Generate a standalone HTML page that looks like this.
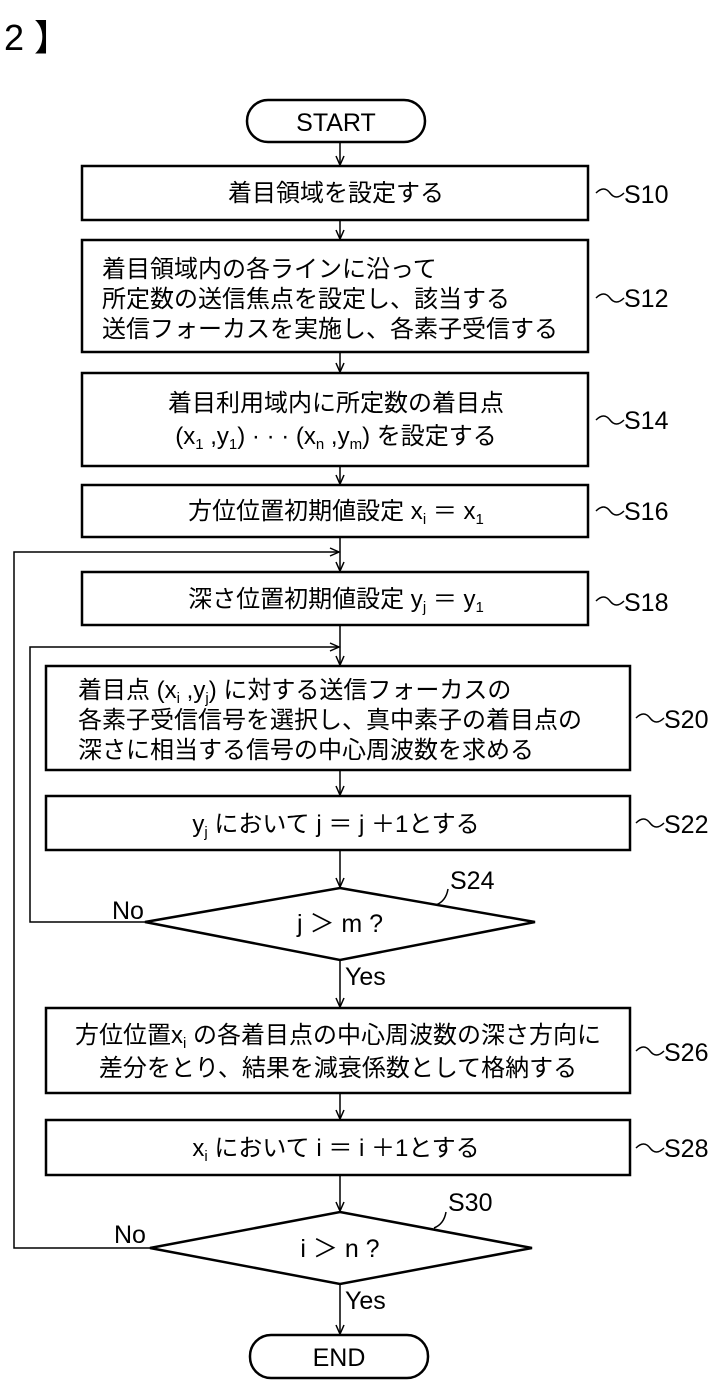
<!DOCTYPE html>
<html><head><meta charset="utf-8"><style>
body{margin:0;background:#fff;}
svg{display:block;}
text{font-family:"Liberation Sans","Noto Sans CJK JP",sans-serif;fill:#000;}
</style></head><body>
<svg width="715" height="1385" viewBox="0 0 715 1385" xmlns="http://www.w3.org/2000/svg">
<defs><marker id="a" markerWidth="12" markerHeight="12" refX="10" refY="5" orient="auto" markerUnits="userSpaceOnUse"><path d="M1,1 L10,5 L1,9" fill="none" stroke="#000" stroke-width="1.5"/></marker></defs>
<text x="4" y="50" font-size="36">2 】</text>
<g fill="none" stroke="#000" stroke-width="2.5">
<rect x="247" y="100" width="178" height="42" rx="21"/>
<rect x="82" y="166" width="506" height="54"/>
<rect x="82" y="240" width="506" height="112"/>
<rect x="82" y="373" width="506" height="93"/>
<rect x="82" y="485" width="506" height="52"/>
<rect x="82" y="572" width="506" height="53"/>
<rect x="46" y="666" width="584" height="104"/>
<rect x="46" y="796" width="584" height="54"/>
<polygon points="340,888 535,922 340,960 145,922"/>
<rect x="46" y="1008" width="584" height="85"/>
<rect x="46" y="1120" width="584" height="55"/>
<polygon points="340,1212 532,1248 340,1284 150,1248"/>
<rect x="250" y="1335" width="178" height="43" rx="21"/>
</g>
<g fill="none" stroke="#000" stroke-width="1.5" marker-end="url(#a)">
<line x1="340" y1="142" x2="340" y2="165"/>
<line x1="340" y1="220" x2="340" y2="239"/>
<line x1="340" y1="352" x2="340" y2="372"/>
<line x1="340" y1="466" x2="340" y2="484"/>
<line x1="340" y1="537" x2="340" y2="571"/>
<line x1="340" y1="625" x2="340" y2="665"/>
<line x1="340" y1="770" x2="340" y2="795"/>
<line x1="340" y1="850" x2="340" y2="887"/>
<line x1="340" y1="960" x2="340" y2="1007"/>
<line x1="340" y1="1093" x2="340" y2="1119"/>
<line x1="340" y1="1175" x2="340" y2="1211"/>
<line x1="340" y1="1284" x2="340" y2="1334"/>
<polyline points="145,922 30,922 30,647 339,647"/>
<polyline points="150,1248 14,1248 14,552 339,552"/>
</g>
<g fill="none" stroke="#000" stroke-width="1.5">
<path d="M596,193 q8,-8 14,0 t14,0"/>
<path d="M596,298 q8,-8 14,0 t14,0"/>
<path d="M596,420 q8,-8 14,0 t14,0"/>
<path d="M596,511 q8,-8 14,0 t14,0"/>
<path d="M596,601 q8,-8 14,0 t14,0"/>
<path d="M636,718 q8,-8 14,0 t14,0"/>
<path d="M636,823 q8,-8 14,0 t14,0"/>
<path d="M636,1051 q8,-8 14,0 t14,0"/>
<path d="M636,1148 q8,-8 14,0 t14,0"/>
<path d="M436,905 q10,-4 12,-16"/>
<path d="M434,1228 q10,-4 12,-16"/>
</g>
<g font-size="25">
<text x="336" y="131" text-anchor="middle">START</text>
<text x="339" y="1366" text-anchor="middle">END</text>
<text x="624" y="203">S10</text>
<text x="624" y="307">S12</text>
<text x="624" y="429">S14</text>
<text x="624" y="520">S16</text>
<text x="624" y="611">S18</text>
<text x="664" y="728">S20</text>
<text x="664" y="833">S22</text>
<text x="664" y="1061">S26</text>
<text x="664" y="1157">S28</text>
<text x="450" y="889">S24</text>
<text x="448" y="1211">S30</text>
<text x="112" y="919">No</text>
<text x="114" y="1243">No</text>
<text x="345" y="985">Yes</text>
<text x="345" y="1309">Yes</text>
<text x="340" y="932" text-anchor="middle">j ＞ m ?</text>
<text x="340" y="1257" text-anchor="middle">i ＞ n ?</text>
</g>
<g font-size="24">
<text x="336" y="201" text-anchor="middle">着目領域を設定する</text>
<text x="102" y="277">着目領域内の各ラインに沿って</text>
<text x="102" y="307">所定数の送信焦点を設定し、該当する</text>
<text x="102" y="337">送信フォーカスを実施し、各素子受信する</text>
<text x="336" y="411" text-anchor="middle">着目利用域内に所定数の着目点</text>
<text x="336" y="444" text-anchor="middle">(x<tspan font-size="15" dy="5">1</tspan><tspan dy="-5"> ,y</tspan><tspan font-size="15" dy="5">1</tspan><tspan dy="-5">) · · · (x</tspan><tspan font-size="15" dy="5">n</tspan><tspan dy="-5"> ,y</tspan><tspan font-size="15" dy="5">m</tspan><tspan dy="-5">) を設定する</tspan></text>
<text x="336" y="519" text-anchor="middle">方位位置初期値設定 x<tspan font-size="15" dy="5">i</tspan><tspan dy="-5"> ＝ x</tspan><tspan font-size="15" dy="5">1</tspan></text>
<text x="336" y="607" text-anchor="middle">深さ位置初期値設定 y<tspan font-size="15" dy="5">j</tspan><tspan dy="-5"> ＝ y</tspan><tspan font-size="15" dy="5">1</tspan></text>
<text x="78" y="698">着目点 (x<tspan font-size="15" dy="5">i</tspan><tspan dy="-5"> ,y</tspan><tspan font-size="15" dy="5">j</tspan><tspan dy="-5">) に対する送信フォーカスの</tspan></text>
<text x="78" y="728">各素子受信信号を選択し、真中素子の着目点の</text>
<text x="78" y="758">深さに相当する信号の中心周波数を求める</text>
<text x="336" y="832" text-anchor="middle">y<tspan font-size="15" dy="5">j</tspan><tspan dy="-5"> において j ＝ j ＋1とする</tspan></text>
<text x="338" y="1043" text-anchor="middle">方位位置x<tspan font-size="15" dy="5">i</tspan><tspan dy="-5"> の各着目点の中心周波数の深さ方向に</tspan></text>
<text x="338" y="1076" text-anchor="middle">差分をとり、結果を減衰係数として格納する</text>
<text x="336" y="1156" text-anchor="middle">x<tspan font-size="15" dy="5">i</tspan><tspan dy="-5"> において i ＝ i ＋1とする</tspan></text>
</g>
</svg>
</body></html>
